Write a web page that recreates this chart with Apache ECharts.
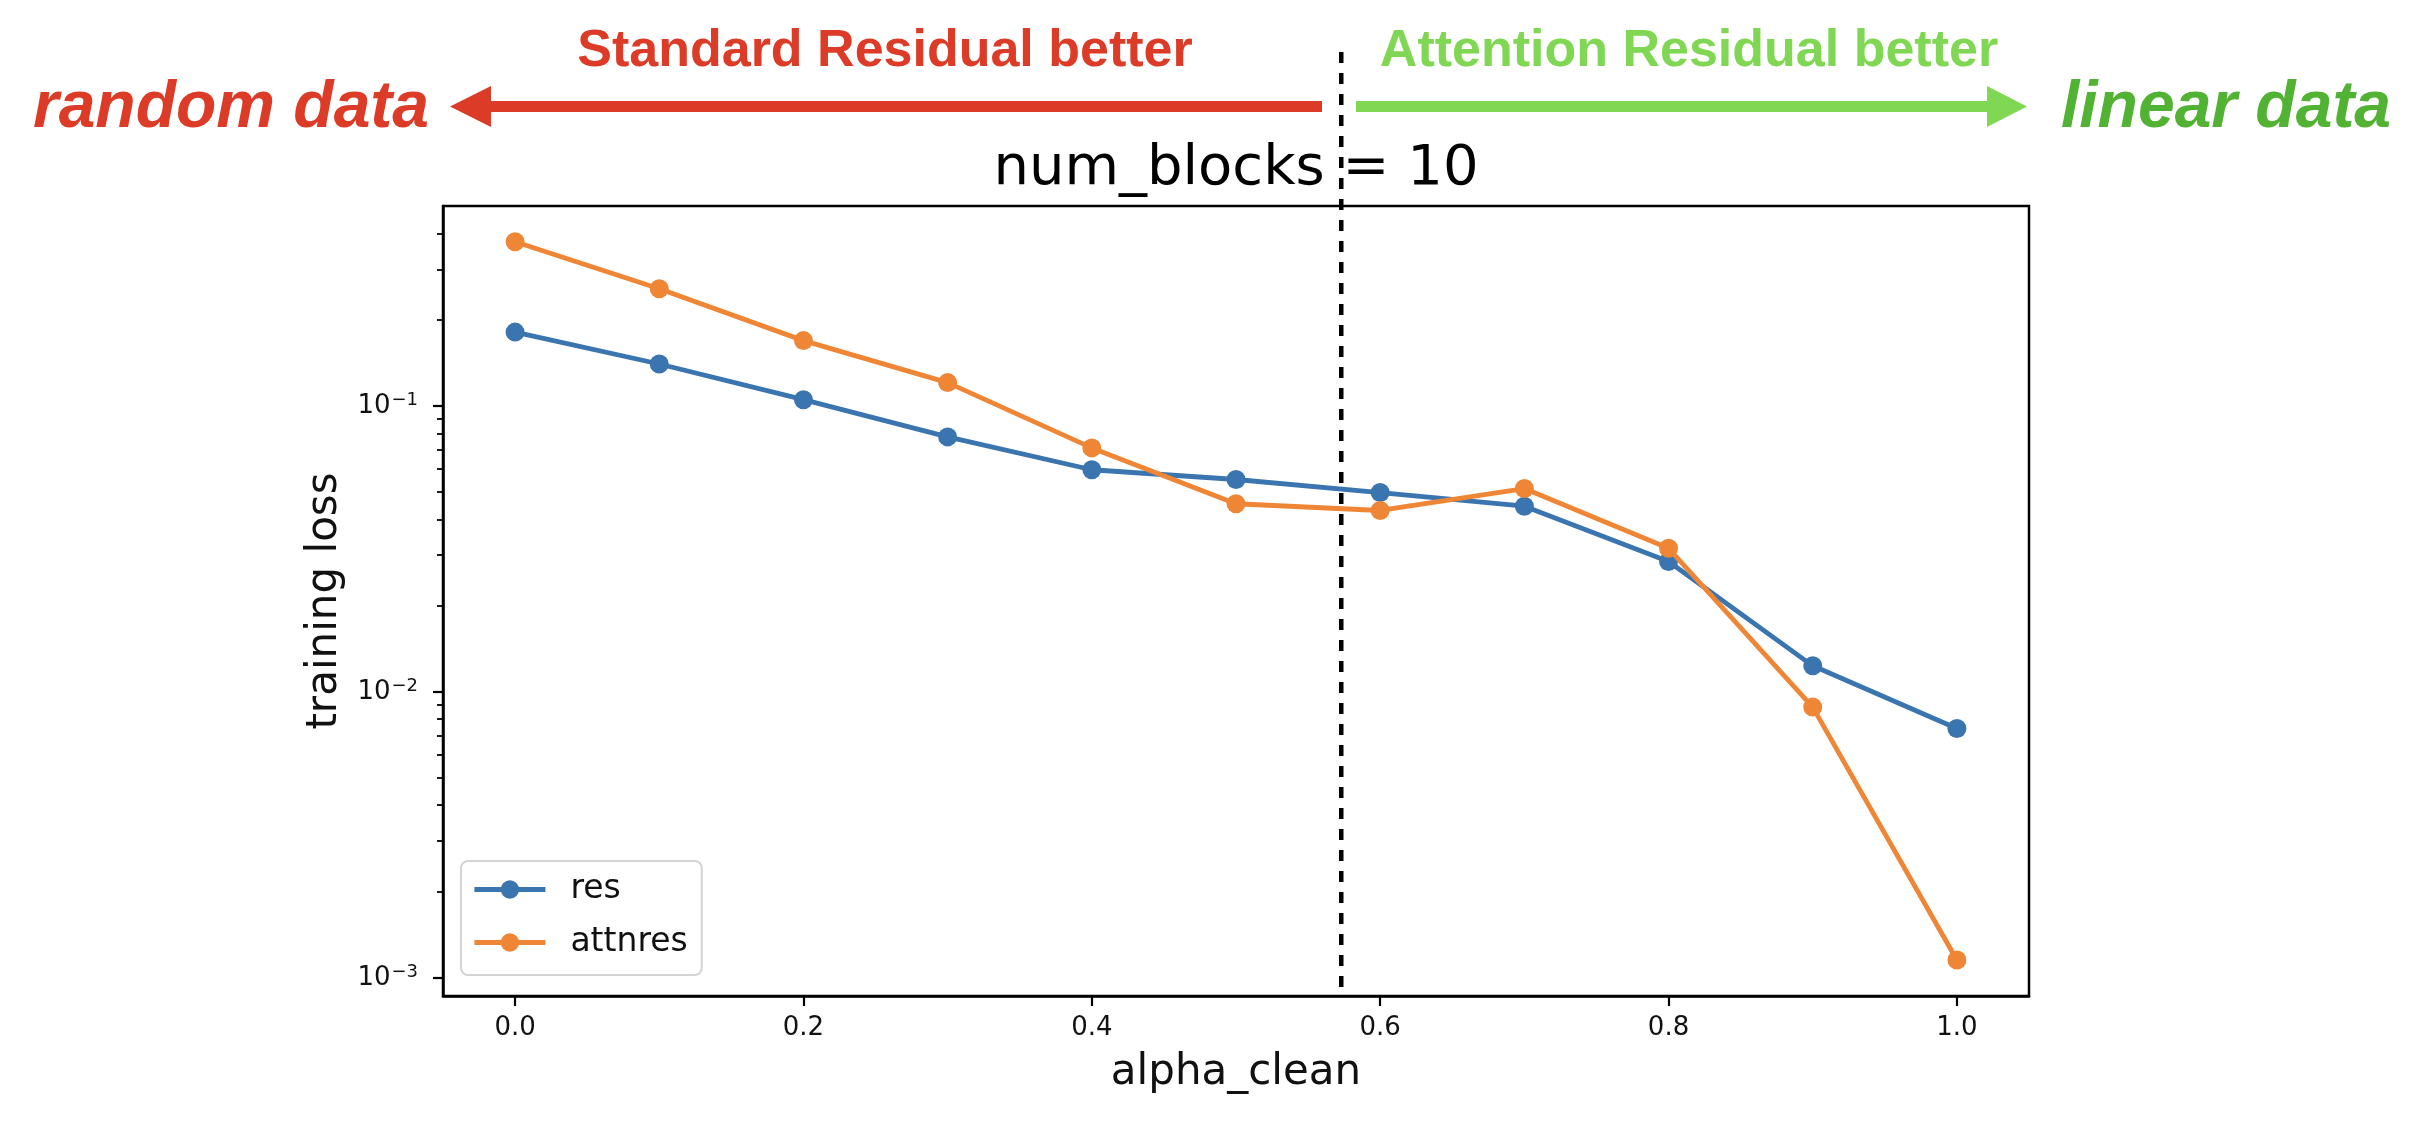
<!DOCTYPE html>
<html><head><meta charset="utf-8">
<script src="https://cdn.jsdelivr.net/npm/echarts@6/dist/echarts.min.js"></script>
<style>html,body{margin:0;padding:0;background:#fff}#c{width:2436px;height:1142px}</style>
</head><body><div id="c"></div>
<script>
// ---- data ----
const alphaClean = [0.0, 0.1, 0.2, 0.3, 0.4, 0.5, 0.6, 0.7, 0.8, 0.9, 1.0];
const resLoss = [0.181, 0.140, 0.105, 0.0778, 0.0597, 0.0552, 0.0497, 0.0445, 0.0285, 0.0123, 0.00742];
const attnresLoss = [0.375, 0.2565, 0.169, 0.1205, 0.0712, 0.0454, 0.0430, 0.0513, 0.0317, 0.00882, 0.00115];
const seriesNames = ['res', 'attnres'];
const xTicks = [0.0, 0.2, 0.4, 0.6, 0.8, 1.0];
const yMajorTicks = [0.001, 0.01, 0.1];
const yMinorTicks = [0.002, 0.003, 0.004, 0.005, 0.006, 0.007, 0.008, 0.009,
                     0.02, 0.03, 0.04, 0.05, 0.06, 0.07, 0.08, 0.09,
                     0.2, 0.3, 0.4];
const xRange = [-0.05, 1.05];
const yRange = [0.00086, 0.5];
const splitAlpha = 0.573;
const titleText = 'num_blocks = 10';
const xName = 'alpha_clean';
const yName = 'training loss';
const leftNote = 'Standard Residual better';
const rightNote = 'Attention Residual better';
const leftEnd = 'random data';
const rightEnd = 'linear data';

// ---- styles ----
const BLUE = '#3b75af', ORANGE = '#ef8636';
const RED = '#dc3c27', LGREEN = '#80d754', DGREEN = '#52b234';
const MPL = 'DejaVu Sans';
const LW = 4.8, MS = 19;

const chart = echarts.init(document.getElementById('c'), null, {renderer: 'canvas'});

const gridL = 443, gridT = 206, gridW = 1586, gridH = 790;

const option = {
  animation: false,
  backgroundColor: '#fff',
  textStyle: {fontFamily: MPL},
  grid: {left: gridL, top: gridT, width: gridW, height: gridH, show: true,
         borderColor: '#000', borderWidth: 2.5, backgroundColor: 'transparent'},
  legend: {
    orient: 'vertical', left: 461, top: 861,
    padding: [12, 14, 16, 11], itemGap: 20,
    itemWidth: 71, itemHeight: 23,
    lineStyle: {width: LW},
    backgroundColor: 'rgba(255,255,255,0.85)', borderColor: '#d4d4d4', borderWidth: 2, borderRadius: 7,
    textStyle: {fontFamily: MPL, fontSize: 33, color: '#111', padding: [0, 0, 0, 20]},
    data: seriesNames
  },
  xAxis: {
    type: 'value', min: xRange[0], max: xRange[1],
    axisLine: {show: true, onZero: false, lineStyle: {color: '#000', width: 2.5}},
    axisTick: {show: true, customValues: xTicks, length: 10, lineStyle: {color: '#000', width: 2.2}},
    axisLabel: {customValues: xTicks, margin: 19, fontFamily: MPL, fontSize: 26, color: '#111',
                formatter: v => Number(v).toFixed(1)},
    splitLine: {show: false},
    name: xName, nameLocation: 'middle', nameGap: 56,
    nameTextStyle: {fontFamily: MPL, fontSize: 42, color: '#111'}
  },
  yAxis: [{
    type: 'log', logBase: 10, min: yRange[0], max: yRange[1], position: 'left',
    axisLine: {show: true, onZero: false, lineStyle: {color: '#000', width: 2.5}},
    axisTick: {show: true, customValues: yMajorTicks, length: 10, lineStyle: {color: '#000', width: 2.2}},
    axisLabel: {
      customValues: yMajorTicks, margin: 25,
      formatter: v => '{b|10}{s|\u2212' + Math.abs(Math.round(Math.log10(v))) + '}',
      rich: {
        b: {fontFamily: MPL, fontSize: 26, color: '#111', lineHeight: 28, verticalAlign: 'bottom'},
        s: {fontFamily: MPL, fontSize: 18, color: '#111', lineHeight: 20, verticalAlign: 'bottom', padding: [0, 0, 10, 1]}
      }
    },
    splitLine: {show: false},
    name: yName, nameLocation: 'middle', nameGap: 95, nameRotate: 90,
    nameTextStyle: {fontFamily: MPL, fontSize: 42, color: '#111'}
  }, {
    type: 'log', logBase: 10, min: yRange[0], max: yRange[1], position: 'left',
    axisLine: {show: false, onZero: false},
    axisTick: {show: true, customValues: yMinorTicks, length: 6, lineStyle: {color: '#000', width: 1.8}},
    axisLabel: {show: false},
    splitLine: {show: false}
  }],
  series: [
    {name: seriesNames[0], type: 'line', yAxisIndex: 0,
     data: alphaClean.map((x, i) => [x, resLoss[i]]),
     symbol: 'circle', symbolSize: MS, showSymbol: true,
     color: BLUE, lineStyle: {width: LW, color: BLUE}, itemStyle: {color: BLUE}, z: 3},
    {name: seriesNames[1], type: 'line', yAxisIndex: 0,
     data: alphaClean.map((x, i) => [x, attnresLoss[i]]),
     symbol: 'circle', symbolSize: MS, showSymbol: true,
     color: ORANGE, lineStyle: {width: LW, color: ORANGE}, itemStyle: {color: ORANGE}, z: 4}
  ]
};
chart.setOption(option);

// annotations (positions derived from the chart's own scales where they touch the data)
const px = chart.convertToPixel({xAxisIndex: 0}, splitAlpha);
const pyBottom = chart.convertToPixel({yAxisIndex: 0}, yRange[0]);
const midX = gridL + gridW / 2;
const arrowY = 106.5;

chart.setOption({
  graphic: [
    {type: 'text', z: 50, x: midX, y: 169.5,
     style: {text: titleText, fill: '#000', font: '56px "DejaVu Sans"', align: 'center', verticalAlign: 'middle'}},
    {type: 'text', z: 50, x: 885, y: 52,
     style: {text: leftNote, fill: RED, font: 'bold 52px "Liberation Sans"', align: 'center', verticalAlign: 'middle'}},
    {type: 'text', z: 50, x: 1689, y: 52,
     style: {text: rightNote, fill: LGREEN, font: 'bold 52px "Liberation Sans"', align: 'center', verticalAlign: 'middle'}},
    {type: 'text', z: 50, x: 231, y: 108.8,
     style: {text: leftEnd, fill: RED, font: 'italic bold 66px "Liberation Sans"', align: 'center', verticalAlign: 'middle'}},
    {type: 'text', z: 50, x: 2226, y: 108.8,
     style: {text: rightEnd, fill: DGREEN, font: 'italic bold 66px "Liberation Sans"', align: 'center', verticalAlign: 'middle'}},
    {type: 'line', z: 50, shape: {x1: 488, y1: arrowY, x2: 1322, y2: arrowY},
     style: {stroke: RED, lineWidth: 11, lineCap: 'butt'}},
    {type: 'polygon', z: 50, shape: {points: [[450, arrowY], [491, 86], [491, 127]]},
     style: {fill: RED}},
    {type: 'line', z: 50, shape: {x1: 1356, y1: arrowY, x2: 1990, y2: arrowY},
     style: {stroke: LGREEN, lineWidth: 11, lineCap: 'butt'}},
    {type: 'polygon', z: 50, shape: {points: [[2027, arrowY], [1987, 86], [1987, 127]]},
     style: {fill: LGREEN}},
    {type: 'line', z: 60, shape: {x1: px, y1: 52, x2: px, y2: pyBottom},
     style: {stroke: '#000', lineWidth: 4.5, lineDash: [11, 10], lineCap: 'butt'}}
  ]
});
</script>
</body></html>
